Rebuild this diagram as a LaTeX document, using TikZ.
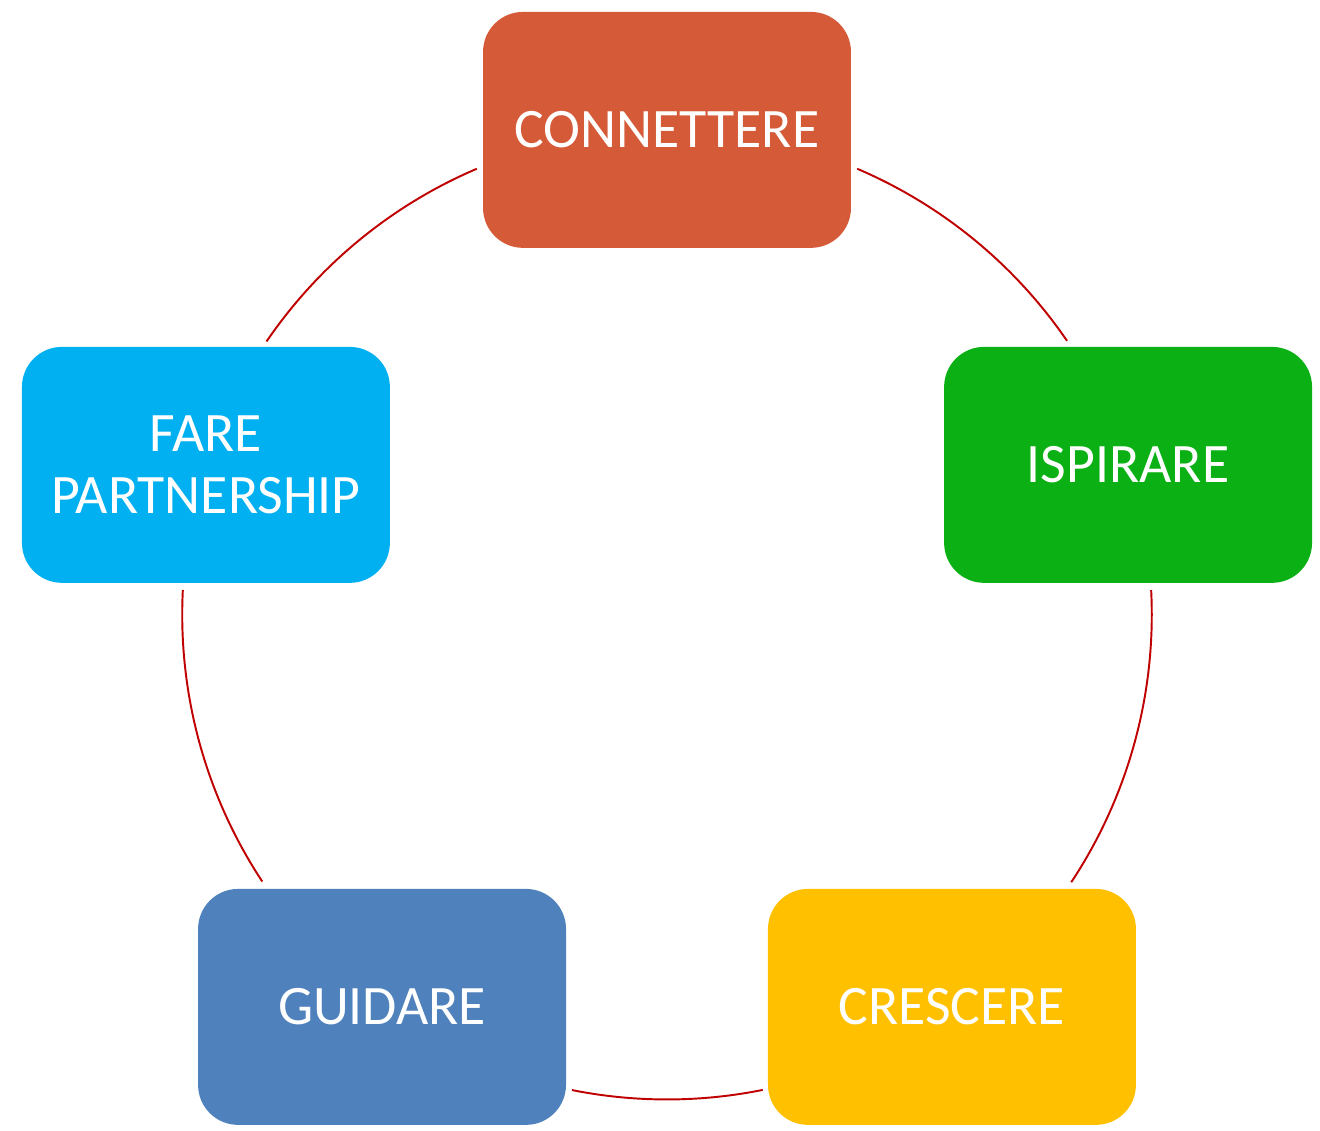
\documentclass[tikz,border=0pt]{standalone}
\usepackage{fontspec}
\setmainfont{Carlito}
\usepackage{xcolor}
\usetikzlibrary{calc}

\definecolor{cRed}{HTML}{D55A38}
\definecolor{cGreen}{HTML}{0BB114}
\definecolor{cYellow}{HTML}{FFC000}
\definecolor{cBlue}{HTML}{4F81BD}
\definecolor{cCyan}{HTML}{00B0F0}
\definecolor{cRing}{HTML}{C00000}

\begin{document}
\begin{tikzpicture}[
    x=0.02cm, y=0.02cm,
    stage/.style={rectangle, text=white, minimum width=7.36cm, minimum height=4.72cm,
        rounded corners=0.8cm, align=center, inner sep=0pt,
        font=\fontsize{31.7}{35.6}\selectfont},
    ring/.style={cRing, line width=1.1pt}
]
\useasboundingbox (0,0) rectangle (1320,1131);

% Centre of the cycle
\coordinate (centre) at (667,516.3);

% Five stages
\node[stage, fill=cRed]    (connettere) at ($(centre)+(90:484.8)$)   {CONNETTERE};
\node[stage, fill=cGreen]  (ispirare)   at ($(centre)+(18:484.8)$)   {ISPIRARE};
\node[stage, fill=cYellow] (crescere)   at ($(centre)+(-54:484.8)$)  {CRESCERE};
\node[stage, fill=cBlue]   (guidare)    at ($(centre)+(-126:484.8)$) {GUIDARE};
\node[stage, fill=cCyan]   (fare)       at ($(centre)+(162:484.8)$)  {FARE\\PARTNERSHIP};

% Arcs of the ring between the stages
\foreach \a/\b in {66.9/34.4, 2.9/-33.5, -78.6/-101.3, -146.6/-182.9, 145.7/113.1}
    \draw[ring] ($(centre)+(\a:484.8)$) arc[start angle=\a, end angle=\b, radius=484.8];

\end{tikzpicture}
\end{document}
